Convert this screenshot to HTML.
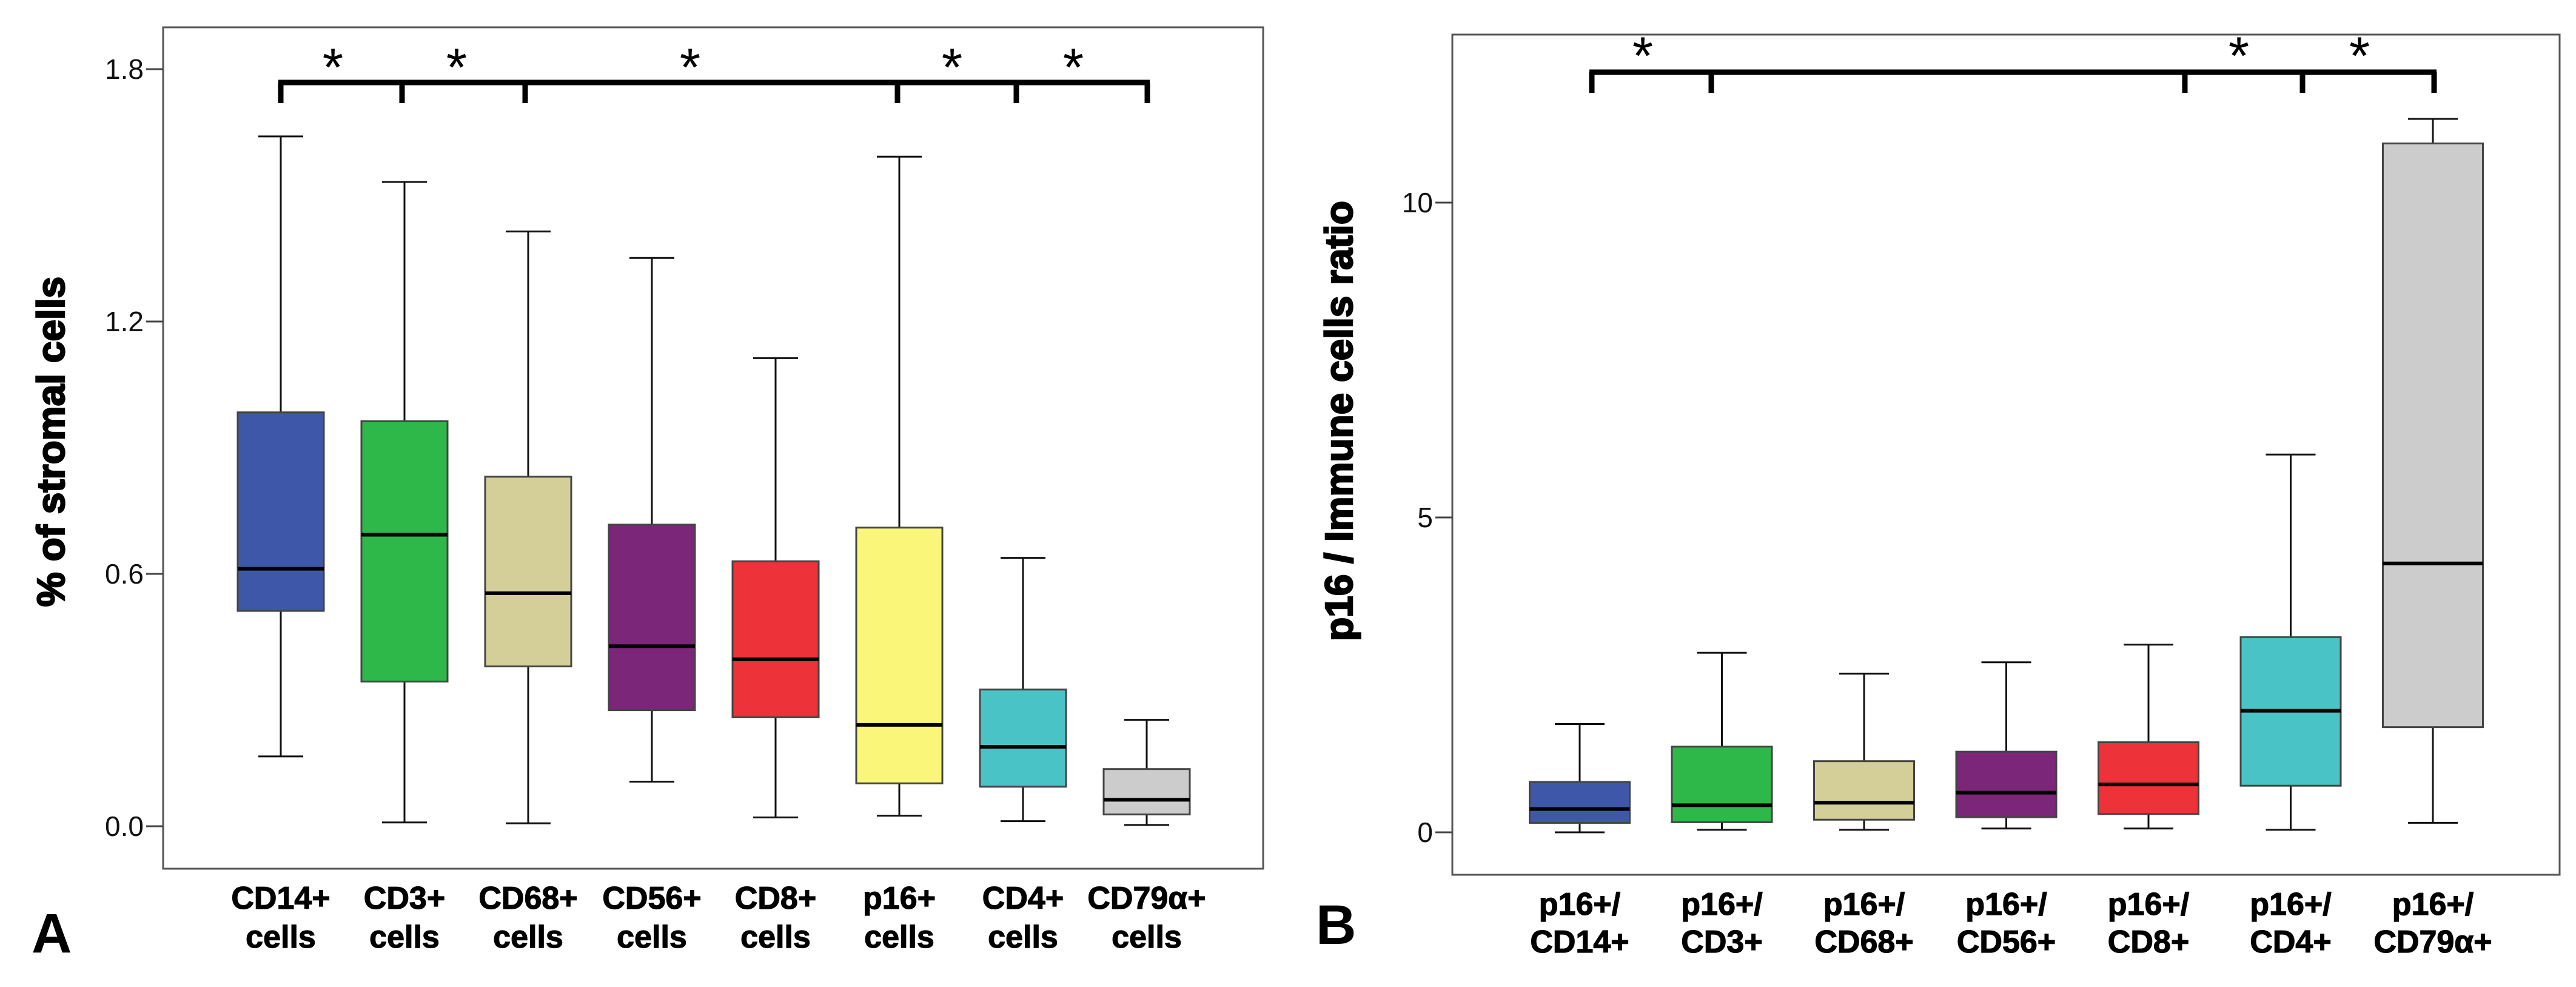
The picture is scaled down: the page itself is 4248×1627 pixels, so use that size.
<!DOCTYPE html>
<html><head><meta charset="utf-8"><style>
html,body{margin:0;padding:0;background:#fff;}
svg{display:block;font-family:"Liberation Sans",Arial,sans-serif;}
</style></head><body>
<svg id="chart" width="4248" height="1627" viewBox="0 0 4248 1627" xmlns="http://www.w3.org/2000/svg">
<rect x="0" y="0" width="4248" height="1627" fill="#fff"/>
<g id="panelA"></g>
<g id="panelB"></g>
</svg>
<script>
// Panel A data
const catsA = [["CD14+","cells"],["CD3+","cells"],["CD68+","cells"],["CD56+","cells"],["CD8+","cells"],["p16+","cells"],["CD4+","cells"],["CD79\u03b1+","cells"]];
const minA = [0.166,0.009,0.007,0.106,0.021,0.025,0.012,0.003];
const q1A = [0.512,0.344,0.380,0.276,0.259,0.102,0.094,0.028];
const medA = [0.612,0.693,0.554,0.428,0.397,0.241,0.189,0.063];
const q3A = [0.984,0.963,0.831,0.717,0.630,0.710,0.325,0.136];
const maxA = [1.640,1.532,1.414,1.351,1.113,1.592,0.638,0.253];
const ticksA = [0.0,0.6,1.2,1.8];
const tickLabelsA = ["0.0","0.6","1.2","1.8"];
// Panel B data
const catsB = [["p16+/","CD14+"],["p16+/","CD3+"],["p16+/","CD68+"],["p16+/","CD56+"],["p16+/","CD8+"],["p16+/","CD4+"],["p16+/","CD79\u03b1+"]];
const minB = [0.0,0.04,0.04,0.06,0.06,0.04,0.15];
const q1B = [0.15,0.16,0.20,0.24,0.29,0.74,1.67];
const medB = [0.37,0.43,0.47,0.63,0.76,1.93,4.27];
const q3B = [0.80,1.36,1.13,1.28,1.43,3.10,10.94];
const maxB = [1.72,2.85,2.52,2.70,2.98,6.00,11.33];
const ticksB = [0,5,10];
const tickLabelsB = ["0","5","10"];

const colorsA = ["#3f57a8","#2eb84a","#d4cf98","#7b2679","#ee3239","#f9f67a","#4ac3c6","#cccccc"];
const colorsB = ["#3f57a8","#2eb84a","#d4cf98","#7b2679","#ee3239","#4ac3c6","#cccccc"];
const NS = "http://www.w3.org/2000/svg";
function mk(parent, tag, attrs, text){
  const e = document.createElementNS(NS, tag);
  for (const k in attrs) e.setAttribute(k, attrs[k]);
  if (text !== undefined) e.textContent = text;
  parent.appendChild(e);
  return e;
}

function drawPanel(g, cfg){
  const yScale = v => cfg.y0 + (v - 0) * (cfg.y1 - cfg.y0) / cfg.v1;
  const xScale = i => cfg.xFirst + i * cfg.step;
  const frame = mk(g,'rect',{x:cfg.L,y:cfg.T,width:cfg.R-cfg.L,height:cfg.B-cfg.T,fill:'none',stroke:'#555',"stroke-width":3});
  
  
  cfg.ticks.forEach((t,i)=>{
    const y = yScale(t);
    const tl = mk(g,'line',{x1:cfg.L-28,x2:cfg.L,y1:y,y2:y,stroke:'#444',"stroke-width":3});
    
    
    const tx = mk(g,'text',{x:cfg.L-32,y:y+16,"text-anchor":"end","font-size":46,fill:'#111'},cfg.tickLabels[i]);
    
    
  });
  cfg.cats.forEach((c,i)=>{
    const cx = xScale(i);
    const bw = cfg.bw, cw = cfg.cw;
    const bg = mk(g,'g',{});
    
    
    const yMax = yScale(cfg.max[i]), yMin = yScale(cfg.min[i]);
    const yQ1 = yScale(cfg.q1[i]), yQ3 = yScale(cfg.q3[i]), yMed = yScale(cfg.med[i]);
    mk(bg,'line',{x1:cx,x2:cx,y1:yMax,y2:yQ3,stroke:'#111',"stroke-width":3});
    mk(bg,'line',{x1:cx,x2:cx,y1:yQ1,y2:yMin,stroke:'#111',"stroke-width":3});
    mk(bg,'line',{x1:cx-cw/2,x2:cx+cw/2,y1:yMax,y2:yMax,stroke:'#111',"stroke-width":3});
    mk(bg,'line',{x1:cx-cw/2,x2:cx+cw/2,y1:yMin,y2:yMin,stroke:'#111',"stroke-width":3});
    mk(bg,'rect',{x:cx-bw/2,y:yQ3,width:bw,height:yQ1-yQ3,fill:cfg.colors[i],stroke:'#444',"stroke-width":3});
    mk(bg,'line',{x1:cx-bw/2,x2:cx+bw/2,y1:yMed,y2:yMed,stroke:'#000',"stroke-width":6});
    const l1 = mk(g,'text',{x:cx,y:cfg.lab1,"text-anchor":"middle","font-size":52,"font-weight":"bold",fill:'#000',stroke:'#000',"stroke-width":1.2},c[0]);
    
    
    const l2 = mk(g,'text',{x:cx,y:cfg.lab2,"text-anchor":"middle","font-size":52,"font-weight":"bold",fill:'#000',stroke:'#000',"stroke-width":1.2},c[1]);
    
    
  });
  const br = mk(g,'g',{});
  
  
  const xs = cfg.brX;
  mk(br,'line',{x1:xs[0]-4,x2:xs[xs.length-1]+4,y1:cfg.brY,y2:cfg.brY,stroke:'#000',"stroke-width":9});
  xs.forEach(x=>mk(br,'line',{x1:x,x2:x,y1:cfg.brY,y2:cfg.brY+34,stroke:'#000',"stroke-width":9}));
  cfg.starX.forEach(x=>{
    const s = mk(g,'text',{x:x,y:cfg.starY+34,"text-anchor":"middle","font-size":88,fill:'#000'},'*');
    
    
  });
  const yt = mk(g,'text',{x:0,y:0,"text-anchor":"middle","font-size":cfg.titleSize,"font-weight":"bold",fill:'#000',stroke:'#000',"stroke-width":2.5,transform:`translate(${cfg.titleX},${cfg.titleY}) rotate(-90)`},cfg.title);
  
  
  const pl = mk(g,'text',{x:cfg.panelX,y:cfg.panelY,"font-size":92,"font-weight":"bold",fill:'#000'},cfg.panel);
  
  
}

drawPanel(document.getElementById('panelA'),{
  L:269,R:2083,T:45,B:1432,y0:1362,y1:114,v1:1.8,
  xFirst:463,step:204,bw:142,cw:74,
  cats:catsA,keyLine:0,min:minA,q1:q1A,med:medA,q3:q3A,max:maxA,colors:colorsA,
  ticks:ticksA,tickLabels:tickLabelsA,lab1:1498,lab2:1562,
  brY:136,brX:[463,663,866,1480,1676,1892],starX:[549,753,1138,1570,1770],starY:107,
  title:"% of stromal cells",titleSize:64,titleX:106,titleY:728,
  panel:"A",panelX:52,panelY:1570
});
drawPanel(document.getElementById('panelB'),{
  L:2395,R:4221,T:57,B:1442,y0:1372,y1:334,v1:10,
  xFirst:2605,step:234.5,bw:165,cw:82,
  cats:catsB,keyLine:1,min:minB,q1:q1B,med:medB,q3:q3B,max:maxB,colors:colorsB,
  ticks:ticksB,tickLabels:tickLabelsB,lab1:1508,lab2:1570,
  brY:119,brX:[2625,2822,3603,3797,4014],starX:[2709,3692,3891],starY:88,
  title:"p16 / Immune cells ratio",titleSize:64,titleX:2230,titleY:694,
  panel:"B",panelX:2170,panelY:1556
});
</script>
</body></html>
